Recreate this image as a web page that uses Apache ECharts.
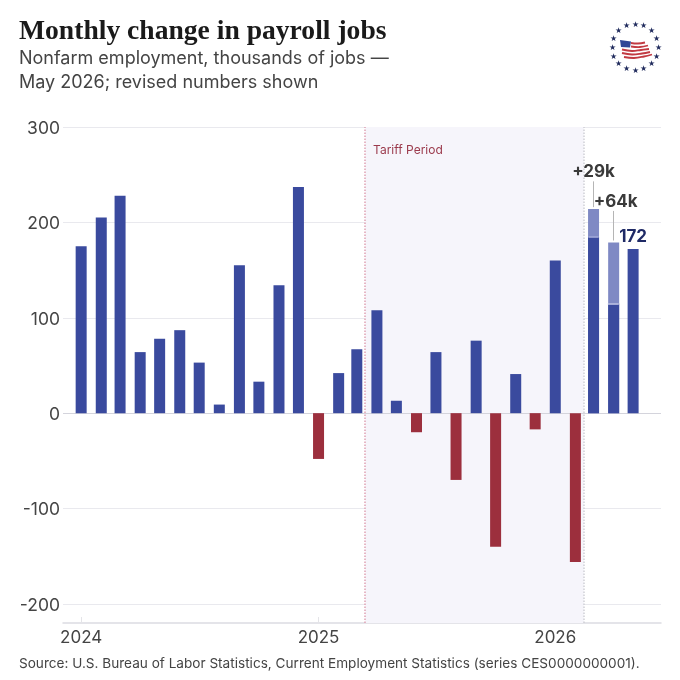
<!DOCTYPE html>
<html><head><meta charset="utf-8">
<style>html,body{margin:0;padding:0;background:#fff}#c{width:680px;height:680px}</style>
<script src="https://cdn.jsdelivr.net/npm/echarts@6/dist/echarts.min.js"></script>
</head><body><div id="c"></div>
<script>
const months = ['2024-01-01','2024-02-01','2024-03-01','2024-04-01','2024-05-01','2024-06-01','2024-07-01','2024-08-01','2024-09-01','2024-10-01','2024-11-01','2024-12-01','2025-01-01','2025-02-01','2025-03-01','2025-04-01','2025-05-01','2025-06-01','2025-07-01','2025-08-01','2025-09-01','2025-10-01','2025-11-01','2025-12-01','2026-01-01','2026-02-01','2026-03-01','2026-04-01','2026-05-01'];
const jobs = [175,205,228,64,78,87,53,9,155,33,134,237,-48,42,67,108,13,-20,64,-70,76,-140,41,-17,160,-156,185,115,172];
const priorMonths = ['2026-03-01','2026-04-01'];
const priorTotals = [214,179];
const yearTicks = ['2024-01-01','2025-01-01','2026-01-01'];
const yTicks = [-200,-100,0,100,200,300];
const tariffSpan = ['2025-03-14','2026-02-14'];
const BLUE='#3a4a9e', RED='#9c2f3d', LIGHT='#7f89c4';
const ts = s => Date.parse(s+'T12:00:00Z');

const chart = echarts.init(document.getElementById('c'),null,{renderer:'canvas'});
const F='Inter';
const stars=[];
for(let i=0;i<16;i++){const a=i/16*Math.PI*2;stars.push({type:'text',x:635+Math.sin(a)*23,y:47.5-Math.cos(a)*23,style:{text:'★',fontSize:8,fill:'#1f2a5c',align:'center',verticalAlign:'middle'}});}
const stripes=[
 [[631,43],[638,43.5],[645,42.5]],
 [[631,46.5],[640,47],[648,45.5]],
 [[622,49.5],[632,51],[641,50],[649,49]],
 [[622,53],[632,54.5],[642,53.5],[650,52]],
 [[624,57],[634,58],[644,56.5],[652,54.5]]
].map(p=>({type:'polyline',shape:{points:p,smooth:0.4},style:{stroke:'#c23a42',fill:null,lineWidth:1.8}}));
const solid=(c,w)=>({color:c,width:w,type:'solid'});
chart.setOption({
  animation:false,
  textStyle:{fontFamily:F},
  title:[
    {text:'Monthly change in payroll jobs',left:14,top:13,textStyle:{fontFamily:'Liberation Serif',fontWeight:'bold',fontSize:27.6,color:'#1a1a1a'}},
    {text:'Nonfarm employment, thousands of jobs —',left:14,top:45,textStyle:{fontFamily:F,fontWeight:'normal',fontSize:18,color:'#444'}},
    {text:'May 2026; revised numbers shown',left:14,top:69,textStyle:{fontFamily:F,fontWeight:'normal',fontSize:18,color:'#444'}},
    {text:'Source: U.S. Bureau of Labor Statistics, Current Employment Statistics (series CES0000000001).',left:14,top:652,textStyle:{fontFamily:F,fontWeight:'normal',fontSize:13.6,color:'#444'}}
  ],
  graphic:[...stars,
    {type:'polygon',shape:{points:[[620,40],[631,41.5],[630,47.5],[621,47]]},style:{fill:'#2f4696'}},
    ...stripes],
  grid:{left:63,right:19,top:127,bottom:57},
  xAxis:{type:'value',min:ts('2023-12-04'),max:ts('2026-06-13'),
    axisLine:{onZero:false,lineStyle:{color:'#dcdce2',width:1.5}},
    axisTick:{inside:true,length:6,lineStyle:{color:'#e4e4e8'},customValues:yearTicks.map(ts)},
    axisLabel:{customValues:yearTicks.map(ts),formatter:v=>String(new Date(v).getUTCFullYear()),fontFamily:F,fontSize:17,color:'#444',margin:6},
    splitLine:{show:false}},
  yAxis:{type:'value',min:-220,max:300,
    axisLine:{show:false},
    axisTick:{show:false,customValues:yTicks},
    axisLabel:{customValues:yTicks,formatter:'{a|{value}}',rich:{a:{fontFamily:F,fontSize:17.5,color:'#444',padding:[3,0,0,0]}},margin:3},
    splitLine:{show:true,lineStyle:{color:'#e9e9ee',width:1}}},
  series:[
    {type:'bar',name:'Before revision',barWidth:11,barGap:'-100%',z:3,
     data:priorMonths.map((m,i)=>[ts(m),priorTotals[i]]),itemStyle:{color:LIGHT}},
    {type:'bar',name:'Jobs',barWidth:11,barGap:'-100%',z:3,
     data:months.map((m,i)=>[ts(m),jobs[i]]),
     itemStyle:{color:p=>p.value[1]<0?RED:BLUE},
     markArea:{silent:true,z:1,itemStyle:{color:'#f6f5fb'},data:[[{xAxis:ts(tariffSpan[0])},{xAxis:ts(tariffSpan[1])}]],
       label:{show:false}},
     markLine:{silent:true,symbol:'none',z:2,label:{show:false},animation:false,data:[
       {yAxis:0,lineStyle:solid('#d4d4dc',1)},
       {xAxis:ts(tariffSpan[0]),lineStyle:{color:'#e0a3b4',width:1.5,type:'dotted'}},
       {xAxis:ts(tariffSpan[1]),lineStyle:{color:'#cfcfd6',width:1.5,type:'dotted'}}
     ]}},
    {type:'scatter',name:'Labels',symbolSize:0,z:5,silent:true,itemStyle:{opacity:1},
     data:[
       {value:[ts('2026-03-01'),253],label:{formatter:'+29k',color:'#3a3a3a'}},
       {value:[ts('2026-04-04'),222],label:{formatter:'+64k',color:'#3a3a3a'}},
       {value:[ts('2026-05-01'),185],label:{formatter:'172',color:'#1f2a66'}}
     ],
     label:{show:true,position:'inside',fontFamily:F,fontWeight:'bold',fontSize:17,opacity:1},
     markLine:{silent:true,symbol:'none',z:6,label:{show:false},data:[
       [{coord:[ts('2026-03-01'),216],lineStyle:solid('#b5b5b5',1)},{coord:[ts('2026-03-01'),243]}],
       [{coord:[ts('2026-04-01'),181],lineStyle:solid('#b5b5b5',1)},{coord:[ts('2026-04-01'),212]}],
       [{coord:[ts('2026-02-21'),185],lineStyle:solid('#aab1dd',1.5)},{coord:[ts('2026-03-09'),185]}],
       [{coord:[ts('2026-03-23'),115],lineStyle:solid('#c9cdea',1.5)},{coord:[ts('2026-04-09'),115]}]
     ]}},
    {type:'scatter',name:'Period',symbolSize:0,z:5,silent:true,itemStyle:{opacity:1},
     data:[{value:[ts('2025-03-26'),275],label:{formatter:'Tariff Period'}}],
     label:{show:true,position:'right',distance:0,fontFamily:F,fontSize:12,color:'#9b3a4c',opacity:1}}
  ]
});
</script></body></html>
